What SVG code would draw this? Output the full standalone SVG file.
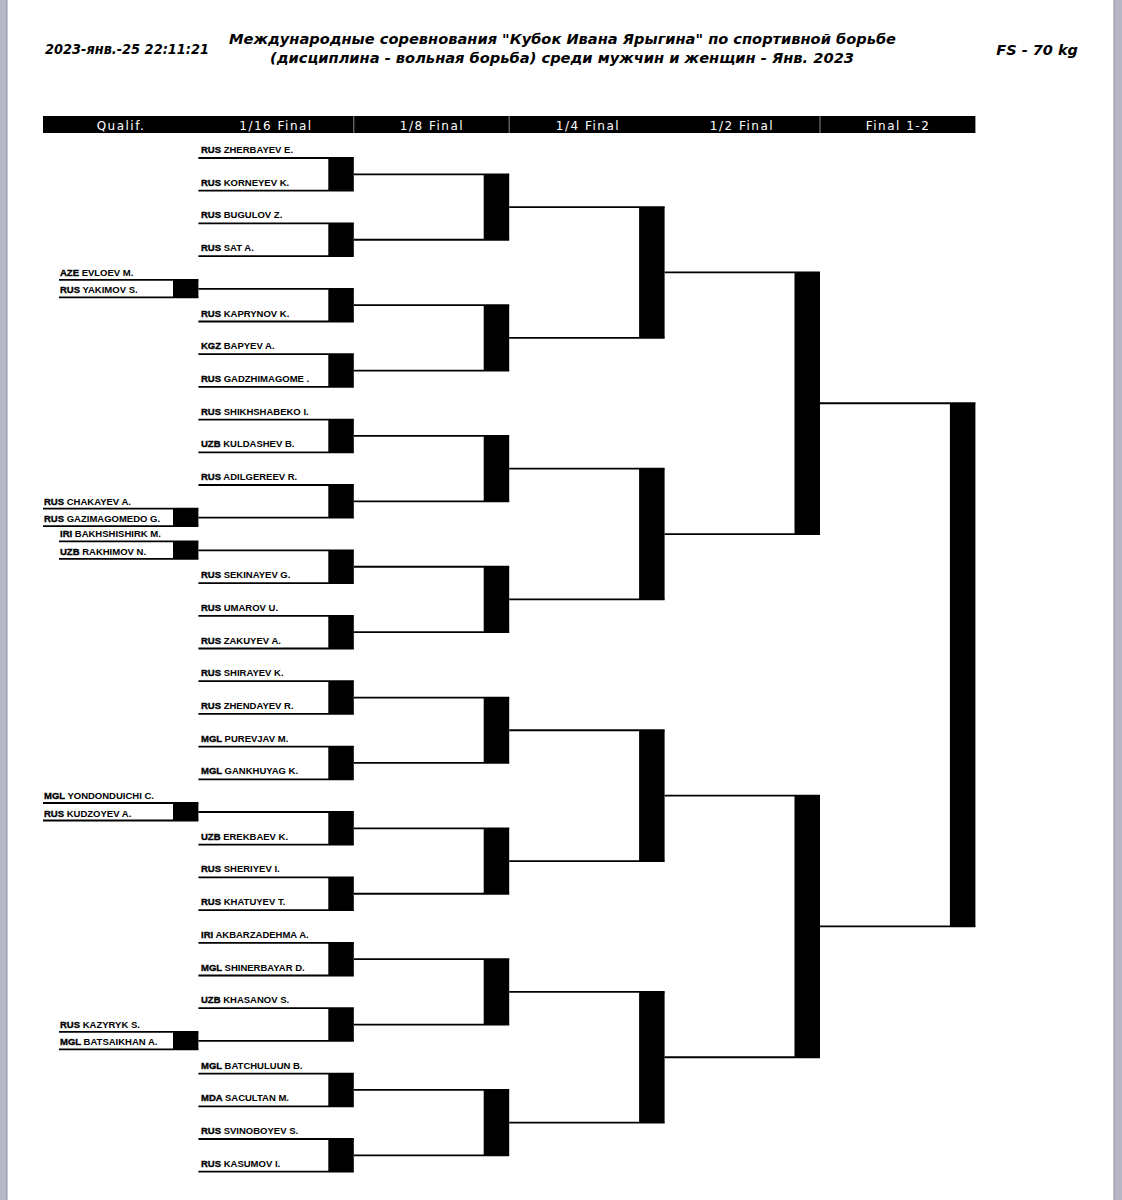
<svg xmlns="http://www.w3.org/2000/svg" width="1122" height="1200" viewBox="0 0 1122 1200">
<style>
.ln{stroke:#000;stroke-width:1.8;fill:none}
.bx{fill:#000}
.nm{font-family:"Liberation Sans",Arial,sans-serif;font-size:9.5px;font-weight:bold;fill:#000}
.cc{stroke:#000;stroke-width:0.35}
.hd{font-family:"DejaVu Sans",sans-serif;font-size:12px;fill:#fff;letter-spacing:1.5px;text-anchor:middle}
.tt{font-family:"DejaVu Sans",sans-serif;font-weight:bold;font-style:italic;font-size:14.5px;fill:#000}
.dv{stroke:#8a8a8a;stroke-width:1}
</style>
<rect x="0" y="0" width="1122" height="1200" fill="#fff"/>
<rect x="0" y="0" width="7" height="1200" fill="#b6b6c6"/>
<line x1="7" y1="0" x2="7" y2="1200" stroke="#8e8ea0" stroke-width="1"/>
<rect x="1114" y="0" width="8" height="1200" fill="#b6b6c6"/>
<line x1="1114" y1="0" x2="1114" y2="1200" stroke="#8e8ea0" stroke-width="1"/>

<g id="header">
<text class="tt" x="45" y="54" font-size="13.5" textLength="164" lengthAdjust="spacingAndGlyphs">2023-янв.-25 22:11:21</text>
<text class="tt" x="229" y="44" textLength="667" lengthAdjust="spacingAndGlyphs">Международные соревнования "Кубок Ивана Ярыгина" по спортивной борьбе</text>
<text class="tt" x="270" y="63" textLength="584" lengthAdjust="spacingAndGlyphs">(дисциплина - вольная борьба) среди мужчин и женщин - Янв. 2023</text>
<text class="tt" x="1078" y="55" text-anchor="end">FS - 70 kg</text>
</g>

<g id="round-headers">
<rect x="43" y="116" width="932.4" height="17" fill="#000"/>
<line class="dv" x1="353.8" y1="116" x2="353.8" y2="133"/>
<line class="dv" x1="509.2" y1="116" x2="509.2" y2="133"/>
<line class="dv" x1="820" y1="116" x2="820" y2="133"/>
<text class="hd" x="121" y="130">Qualif.</text>
<text class="hd" x="276" y="130">1/16 Final</text>
<text class="hd" x="432" y="130">1/8 Final</text>
<text class="hd" x="588" y="130">1/4 Final</text>
<text class="hd" x="742" y="130">1/2 Final</text>
<text class="hd" x="898" y="130">Final 1-2</text>
</g>

<g id="qualif-entrants">
<g id="q-evloev"><line class="ln" x1="59" y1="279.8" x2="198.4" y2="279.8"/><text class="nm" x="60" y="275.8"><tspan class="cc">AZE</tspan> EVLOEV M.</text></g>
<g id="q-yakimov"><line class="ln" x1="59" y1="297.3" x2="198.4" y2="297.3"/><text class="nm" x="60" y="293.3"><tspan class="cc">RUS</tspan> YAKIMOV S.</text></g>
<g id="q-chakayev"><line class="ln" x1="43" y1="508.7" x2="198.4" y2="508.7"/><text class="nm" x="44" y="504.7"><tspan class="cc">RUS</tspan> CHAKAYEV A.</text></g>
<g id="q-gazimagomedo"><line class="ln" x1="43" y1="526.2" x2="198.4" y2="526.2"/><text class="nm" x="44" y="522.2"><tspan class="cc">RUS</tspan> GAZIMAGOMEDO G.</text></g>
<g id="q-bakhshishirk"><line class="ln" x1="59" y1="541.4" x2="198.4" y2="541.4"/><text class="nm" x="60" y="537.4"><tspan class="cc">IRI</tspan> BAKHSHISHIRK M.</text></g>
<g id="q-rakhimov"><line class="ln" x1="59" y1="558.9" x2="198.4" y2="558.9"/><text class="nm" x="60" y="554.9"><tspan class="cc">UZB</tspan> RAKHIMOV N.</text></g>
<g id="q-yondonduichi"><line class="ln" x1="43" y1="803" x2="198.4" y2="803"/><text class="nm" x="44" y="799"><tspan class="cc">MGL</tspan> YONDONDUICHI C.</text></g>
<g id="q-kudzoyev"><line class="ln" x1="43" y1="820.5" x2="198.4" y2="820.5"/><text class="nm" x="44" y="816.5"><tspan class="cc">RUS</tspan> KUDZOYEV A.</text></g>
<g id="q-kazyryk"><line class="ln" x1="59" y1="1031.9" x2="198.4" y2="1031.9"/><text class="nm" x="60" y="1027.9"><tspan class="cc">RUS</tspan> KAZYRYK S.</text></g>
<g id="q-batsaikhan"><line class="ln" x1="59" y1="1049.4" x2="198.4" y2="1049.4"/><text class="nm" x="60" y="1045.4"><tspan class="cc">MGL</tspan> BATSAIKHAN A.</text></g>
</g>

<g id="entrants">
<g id="e00"><line class="ln" x1="198.4" y1="158" x2="353.8" y2="158"/><text class="nm" x="201" y="153"><tspan class="cc">RUS</tspan> ZHERBAYEV E.</text></g>
<g id="e01"><line class="ln" x1="198.4" y1="190.7" x2="353.8" y2="190.7"/><text class="nm" x="201" y="185.7"><tspan class="cc">RUS</tspan> KORNEYEV K.</text></g>
<g id="e02"><line class="ln" x1="198.4" y1="223.4" x2="353.8" y2="223.4"/><text class="nm" x="201" y="218.4"><tspan class="cc">RUS</tspan> BUGULOV Z.</text></g>
<g id="e03"><line class="ln" x1="198.4" y1="256.1" x2="353.8" y2="256.1"/><text class="nm" x="201" y="251.1"><tspan class="cc">RUS</tspan> SAT A.</text></g>
<g id="e05"><line class="ln" x1="198.4" y1="321.5" x2="353.8" y2="321.5"/><text class="nm" x="201" y="316.5"><tspan class="cc">RUS</tspan> KAPRYNOV K.</text></g>
<g id="e06"><line class="ln" x1="198.4" y1="354.2" x2="353.8" y2="354.2"/><text class="nm" x="201" y="349.2"><tspan class="cc">KGZ</tspan> BAPYEV A.</text></g>
<g id="e07"><line class="ln" x1="198.4" y1="386.9" x2="353.8" y2="386.9"/><text class="nm" x="201" y="381.9"><tspan class="cc">RUS</tspan> GADZHIMAGOME .</text></g>
<g id="e08"><line class="ln" x1="198.4" y1="419.6" x2="353.8" y2="419.6"/><text class="nm" x="201" y="414.6"><tspan class="cc">RUS</tspan> SHIKHSHABEKO I.</text></g>
<g id="e09"><line class="ln" x1="198.4" y1="452.3" x2="353.8" y2="452.3"/><text class="nm" x="201" y="447.3"><tspan class="cc">UZB</tspan> KULDASHEV B.</text></g>
<g id="e10"><line class="ln" x1="198.4" y1="485" x2="353.8" y2="485"/><text class="nm" x="201" y="480"><tspan class="cc">RUS</tspan> ADILGEREEV R.</text></g>
<g id="e13"><line class="ln" x1="198.4" y1="583.1" x2="353.8" y2="583.1"/><text class="nm" x="201" y="578.1"><tspan class="cc">RUS</tspan> SEKINAYEV G.</text></g>
<g id="e14"><line class="ln" x1="198.4" y1="615.8" x2="353.8" y2="615.8"/><text class="nm" x="201" y="610.8"><tspan class="cc">RUS</tspan> UMAROV U.</text></g>
<g id="e15"><line class="ln" x1="198.4" y1="648.5" x2="353.8" y2="648.5"/><text class="nm" x="201" y="643.5"><tspan class="cc">RUS</tspan> ZAKUYEV A.</text></g>
<g id="e16"><line class="ln" x1="198.4" y1="681.2" x2="353.8" y2="681.2"/><text class="nm" x="201" y="676.2"><tspan class="cc">RUS</tspan> SHIRAYEV K.</text></g>
<g id="e17"><line class="ln" x1="198.4" y1="713.9" x2="353.8" y2="713.9"/><text class="nm" x="201" y="708.9"><tspan class="cc">RUS</tspan> ZHENDAYEV R.</text></g>
<g id="e18"><line class="ln" x1="198.4" y1="746.6" x2="353.8" y2="746.6"/><text class="nm" x="201" y="741.6"><tspan class="cc">MGL</tspan> PUREVJAV M.</text></g>
<g id="e19"><line class="ln" x1="198.4" y1="779.3" x2="353.8" y2="779.3"/><text class="nm" x="201" y="774.3"><tspan class="cc">MGL</tspan> GANKHUYAG K.</text></g>
<g id="e21"><line class="ln" x1="198.4" y1="844.7" x2="353.8" y2="844.7"/><text class="nm" x="201" y="839.7"><tspan class="cc">UZB</tspan> EREKBAEV K.</text></g>
<g id="e22"><line class="ln" x1="198.4" y1="877.4" x2="353.8" y2="877.4"/><text class="nm" x="201" y="872.4"><tspan class="cc">RUS</tspan> SHERIYEV I.</text></g>
<g id="e23"><line class="ln" x1="198.4" y1="910.1" x2="353.8" y2="910.1"/><text class="nm" x="201" y="905.1"><tspan class="cc">RUS</tspan> KHATUYEV T.</text></g>
<g id="e24"><line class="ln" x1="198.4" y1="942.8" x2="353.8" y2="942.8"/><text class="nm" x="201" y="937.8"><tspan class="cc">IRI</tspan> AKBARZADEHMA A.</text></g>
<g id="e25"><line class="ln" x1="198.4" y1="975.5" x2="353.8" y2="975.5"/><text class="nm" x="201" y="970.5"><tspan class="cc">MGL</tspan> SHINERBAYAR D.</text></g>
<g id="e26"><line class="ln" x1="198.4" y1="1008.2" x2="353.8" y2="1008.2"/><text class="nm" x="201" y="1003.2"><tspan class="cc">UZB</tspan> KHASANOV S.</text></g>
<g id="e28"><line class="ln" x1="198.4" y1="1073.6" x2="353.8" y2="1073.6"/><text class="nm" x="201" y="1068.6"><tspan class="cc">MGL</tspan> BATCHULUUN B.</text></g>
<g id="e29"><line class="ln" x1="198.4" y1="1106.3" x2="353.8" y2="1106.3"/><text class="nm" x="201" y="1101.3"><tspan class="cc">MDA</tspan> SACULTAN M.</text></g>
<g id="e30"><line class="ln" x1="198.4" y1="1139" x2="353.8" y2="1139"/><text class="nm" x="201" y="1134"><tspan class="cc">RUS</tspan> SVINOBOYEV S.</text></g>
<g id="e31"><line class="ln" x1="198.4" y1="1171.7" x2="353.8" y2="1171.7"/><text class="nm" x="201" y="1166.7"><tspan class="cc">RUS</tspan> KASUMOV I.</text></g>
</g>

<g id="connectors" class="ln">
<line x1="198.4" y1="288.8" x2="353.8" y2="288.8"/>
<line x1="198.4" y1="517.7" x2="353.8" y2="517.7"/>
<line x1="198.4" y1="550.4" x2="353.8" y2="550.4"/>
<line x1="198.4" y1="812" x2="353.8" y2="812"/>
<line x1="198.4" y1="1040.9" x2="353.8" y2="1040.9"/>
<line x1="353.8" y1="174.35" x2="509.2" y2="174.35"/>
<line x1="353.8" y1="239.75" x2="509.2" y2="239.75"/>
<line x1="353.8" y1="305.15" x2="509.2" y2="305.15"/>
<line x1="353.8" y1="370.55" x2="509.2" y2="370.55"/>
<line x1="353.8" y1="435.95" x2="509.2" y2="435.95"/>
<line x1="353.8" y1="501.35" x2="509.2" y2="501.35"/>
<line x1="353.8" y1="566.75" x2="509.2" y2="566.75"/>
<line x1="353.8" y1="632.15" x2="509.2" y2="632.15"/>
<line x1="353.8" y1="697.55" x2="509.2" y2="697.55"/>
<line x1="353.8" y1="762.95" x2="509.2" y2="762.95"/>
<line x1="353.8" y1="828.35" x2="509.2" y2="828.35"/>
<line x1="353.8" y1="893.75" x2="509.2" y2="893.75"/>
<line x1="353.8" y1="959.15" x2="509.2" y2="959.15"/>
<line x1="353.8" y1="1024.55" x2="509.2" y2="1024.55"/>
<line x1="353.8" y1="1089.95" x2="509.2" y2="1089.95"/>
<line x1="353.8" y1="1155.35" x2="509.2" y2="1155.35"/>
<line x1="509.2" y1="207.05" x2="664.6" y2="207.05"/>
<line x1="509.2" y1="337.85" x2="664.6" y2="337.85"/>
<line x1="509.2" y1="468.65" x2="664.6" y2="468.65"/>
<line x1="509.2" y1="599.45" x2="664.6" y2="599.45"/>
<line x1="509.2" y1="730.25" x2="664.6" y2="730.25"/>
<line x1="509.2" y1="861.05" x2="664.6" y2="861.05"/>
<line x1="509.2" y1="991.85" x2="664.6" y2="991.85"/>
<line x1="509.2" y1="1122.65" x2="664.6" y2="1122.65"/>
<line x1="664.6" y1="272.45" x2="820" y2="272.45"/>
<line x1="664.6" y1="534.05" x2="820" y2="534.05"/>
<line x1="664.6" y1="795.65" x2="820" y2="795.65"/>
<line x1="664.6" y1="1057.25" x2="820" y2="1057.25"/>
<line x1="820" y1="403.25" x2="975.4" y2="403.25"/>
<line x1="820" y1="926.45" x2="975.4" y2="926.45"/>
</g>

<g id="qualif-matches" class="bx">
<rect id="qm1" x="173" y="279.8" width="25.4" height="17.5"/>
<rect id="qm2" x="173" y="508.7" width="25.4" height="17.5"/>
<rect id="qm3" x="173" y="541.4" width="25.4" height="17.5"/>
<rect id="qm4" x="173" y="803" width="25.4" height="17.5"/>
<rect id="qm5" x="173" y="1031.9" width="25.4" height="17.5"/>
</g>

<g id="r16-matches" class="bx">
<rect id="m16-1" x="328.3" y="158" width="25.5" height="32.7"/>
<rect id="m16-2" x="328.3" y="223.4" width="25.5" height="32.7"/>
<rect id="m16-3" x="328.3" y="288.8" width="25.5" height="32.7"/>
<rect id="m16-4" x="328.3" y="354.2" width="25.5" height="32.7"/>
<rect id="m16-5" x="328.3" y="419.6" width="25.5" height="32.7"/>
<rect id="m16-6" x="328.3" y="485" width="25.5" height="32.7"/>
<rect id="m16-7" x="328.3" y="550.4" width="25.5" height="32.7"/>
<rect id="m16-8" x="328.3" y="615.8" width="25.5" height="32.7"/>
<rect id="m16-9" x="328.3" y="681.2" width="25.5" height="32.7"/>
<rect id="m16-10" x="328.3" y="746.6" width="25.5" height="32.7"/>
<rect id="m16-11" x="328.3" y="812" width="25.5" height="32.7"/>
<rect id="m16-12" x="328.3" y="877.4" width="25.5" height="32.7"/>
<rect id="m16-13" x="328.3" y="942.8" width="25.5" height="32.7"/>
<rect id="m16-14" x="328.3" y="1008.2" width="25.5" height="32.7"/>
<rect id="m16-15" x="328.3" y="1073.6" width="25.5" height="32.7"/>
<rect id="m16-16" x="328.3" y="1139" width="25.5" height="32.7"/>
</g>

<g id="r8-matches" class="bx">
<rect id="m8-1" x="483.7" y="174.35" width="25.5" height="65.4"/>
<rect id="m8-2" x="483.7" y="305.15" width="25.5" height="65.4"/>
<rect id="m8-3" x="483.7" y="435.95" width="25.5" height="65.4"/>
<rect id="m8-4" x="483.7" y="566.75" width="25.5" height="65.4"/>
<rect id="m8-5" x="483.7" y="697.55" width="25.5" height="65.4"/>
<rect id="m8-6" x="483.7" y="828.35" width="25.5" height="65.4"/>
<rect id="m8-7" x="483.7" y="959.15" width="25.5" height="65.4"/>
<rect id="m8-8" x="483.7" y="1089.95" width="25.5" height="65.4"/>
</g>

<g id="r4-matches" class="bx">
<rect id="m4-1" x="639.1" y="207.05" width="25.5" height="130.8"/>
<rect id="m4-2" x="639.1" y="468.65" width="25.5" height="130.8"/>
<rect id="m4-3" x="639.1" y="730.25" width="25.5" height="130.8"/>
<rect id="m4-4" x="639.1" y="991.85" width="25.5" height="130.8"/>
</g>

<g id="r2-matches" class="bx">
<rect id="m2-1" x="794.5" y="272.45" width="25.5" height="261.6"/>
<rect id="m2-2" x="794.5" y="795.65" width="25.5" height="261.6"/>
</g>

<g id="final-match" class="bx">
<rect id="mf" x="949.9" y="403.25" width="25.5" height="523.2"/>
</g>
</svg>
